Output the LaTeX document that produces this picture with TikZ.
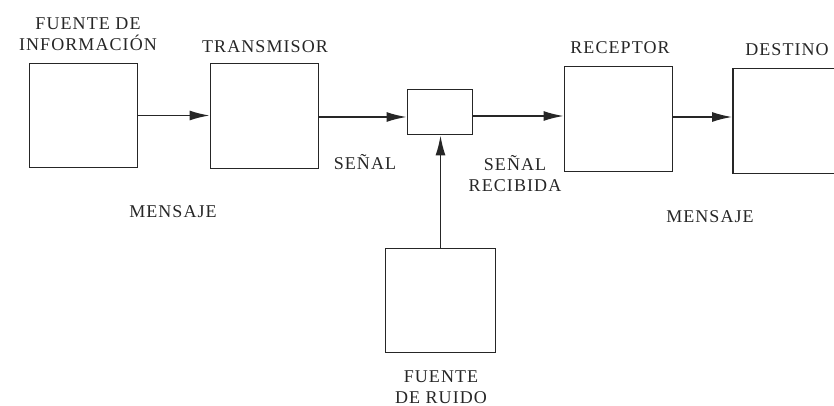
\documentclass[tikz,border=0pt]{standalone}
\usepackage{fontspec}
\setmainfont[LetterSpace=6]{Liberation Serif}
\usetikzlibrary{arrows.meta}

\begin{document}
\begin{tikzpicture}[x=1pt,y=-1pt,>={Latex[length=20pt,width=10pt]},
    color=black!85,
    font=\fontsize{18}{21}\selectfont,
    bloque/.style={draw,line width=1.7pt,inner sep=0pt},
    rotulo/.style={align=center,inner sep=0pt},
    flecha/.style={->,line width=1.7pt}]
    \useasboundingbox (0,0) rectangle (834,406);
    % bloques
    \node[bloque,minimum width=108pt,minimum height=104pt] (fuente) at (83.5,115.5) {};
    \node[bloque,minimum width=108pt,minimum height=105pt] (trans) at (264.5,116) {};
    \node[bloque,minimum width=65pt,minimum height=45pt] (canal) at (440,112) {};
    \node[bloque,minimum width=108pt,minimum height=105pt] (recep) at (618.5,119) {};
    \node[bloque,minimum width=110pt,minimum height=105pt] (dest) at (788,121) {};
    \node[bloque,minimum width=110pt,minimum height=104pt] (ruido) at (440.5,300.5) {};
    % rotulos
    \node[rotulo] (tfuente) at (88,34) {FUENTE DE\\INFORMACIÓN};
    \node[rotulo] (ttrans) at (265,47) {TRANSMISOR};
    \node[rotulo] (trecep) at (620,48) {RECEPTOR};
    \node[rotulo] (tdest) at (787,50) {DESTINO};
    \node[rotulo] (tsenal) at (365,162) {SEÑAL};
    \node[rotulo] (trecib) at (515,174) {SEÑAL\\RECIBIDA};
    \node[rotulo] (tmens1) at (173,212) {MENSAJE};
    \node[rotulo] (tmens2) at (710,217) {MENSAJE};
    \node[rotulo] (truido) at (441,387) {FUENTE\\DE RUIDO};
    % flechas
    \draw[flecha] (fuente.east) -- (fuente.east -| trans.west);
    \draw[flecha] ([yshift=-1pt]trans.east) -- ([yshift=-1pt]trans.east -| canal.west);
    \draw[flecha] ([yshift=-4pt]canal.east) -- ([yshift=-4pt]canal.east -| recep.west);
    \draw[flecha] ([yshift=2pt]recep.east) -- ([yshift=2pt]recep.east -| dest.west);
    \draw[flecha] (ruido.north) -- (ruido.north |- canal.south);
\end{tikzpicture}
\end{document}
